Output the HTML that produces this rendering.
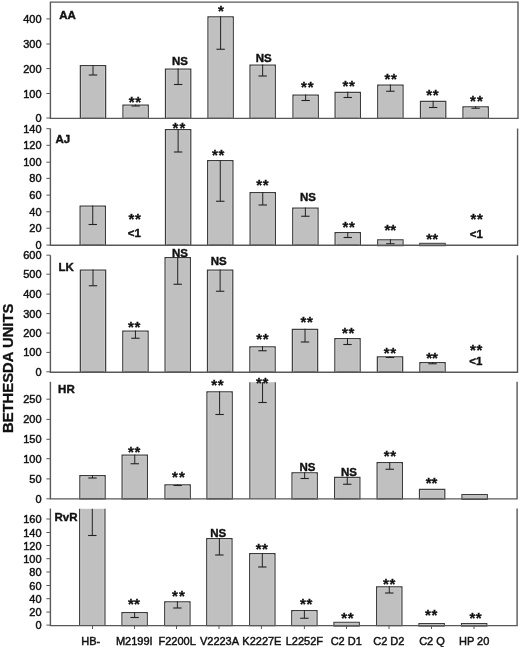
<!DOCTYPE html>
<html><head><meta charset="utf-8"><style>
html,body{margin:0;padding:0;background:#fff;}
body{width:520px;height:647px;overflow:hidden;}
svg{display:block;filter:blur(0.35px);}
text{font-family:"Liberation Sans",sans-serif;fill:#111111;stroke:#111111;stroke-width:0.3px;}
.tl{font-size:11px;stroke-width:0.45px;}
.xl{font-size:11px;stroke-width:0.45px;}
.pl{font-size:11.5px;font-weight:bold;stroke-width:0.4px;}
.ns{font-size:11.5px;font-weight:bold;stroke-width:0.4px;}
.ast{font-size:15px;font-weight:bold;stroke-width:0.3px;}
.yt{font-size:14.8px;font-weight:bold;}
</style></head><body>
<svg width="520" height="647" viewBox="0 0 520 647">
<rect x="0" y="0" width="520" height="647" fill="#fff"/>
<rect x="80.35" y="65.60" width="25.30" height="52.80" fill="#c0c0c0" stroke="#3c3c3c" stroke-width="1.2"/>
<path d="M81.55,118.40 V66.80 H104.45 V118.40" fill="none" stroke="#cbcbcb" stroke-width="0.9"/>
<line x1="93.00" y1="65.00" x2="93.00" y2="75.00" stroke="#222222" stroke-width="1"/>
<line x1="88.80" y1="75.00" x2="97.20" y2="75.00" stroke="#222222" stroke-width="1.1"/>
<rect x="122.97" y="105.10" width="25.30" height="13.30" fill="#c0c0c0" stroke="#3c3c3c" stroke-width="1.2"/>
<path d="M124.17,118.40 V106.30 H147.08 V118.40" fill="none" stroke="#cbcbcb" stroke-width="0.9"/>
<line x1="135.62" y1="104.50" x2="135.62" y2="106.00" stroke="#222222" stroke-width="1"/>
<line x1="131.43" y1="106.00" x2="139.82" y2="106.00" stroke="#222222" stroke-width="1.1"/>
<rect x="165.47" y="69.10" width="25.30" height="49.30" fill="#c0c0c0" stroke="#3c3c3c" stroke-width="1.2"/>
<path d="M166.67,118.40 V70.30 H189.58 V118.40" fill="none" stroke="#cbcbcb" stroke-width="0.9"/>
<line x1="178.12" y1="68.50" x2="178.12" y2="84.50" stroke="#222222" stroke-width="1"/>
<line x1="173.93" y1="84.50" x2="182.32" y2="84.50" stroke="#222222" stroke-width="1.1"/>
<rect x="207.97" y="16.85" width="25.30" height="101.55" fill="#c0c0c0" stroke="#3c3c3c" stroke-width="1.2"/>
<path d="M209.17,118.40 V18.05 H232.08 V118.40" fill="none" stroke="#cbcbcb" stroke-width="0.9"/>
<line x1="220.62" y1="16.25" x2="220.62" y2="49.25" stroke="#222222" stroke-width="1"/>
<line x1="216.43" y1="49.25" x2="224.82" y2="49.25" stroke="#222222" stroke-width="1.1"/>
<rect x="250.00" y="65.10" width="25.30" height="53.30" fill="#c0c0c0" stroke="#3c3c3c" stroke-width="1.2"/>
<path d="M251.20,118.40 V66.30 H274.10 V118.40" fill="none" stroke="#cbcbcb" stroke-width="0.9"/>
<line x1="262.65" y1="64.50" x2="262.65" y2="76.00" stroke="#222222" stroke-width="1"/>
<line x1="258.45" y1="76.00" x2="266.85" y2="76.00" stroke="#222222" stroke-width="1.1"/>
<rect x="292.98" y="95.10" width="25.30" height="23.30" fill="#c0c0c0" stroke="#3c3c3c" stroke-width="1.2"/>
<path d="M294.18,118.40 V96.30 H317.07 V118.40" fill="none" stroke="#cbcbcb" stroke-width="0.9"/>
<line x1="305.62" y1="94.50" x2="305.62" y2="100.50" stroke="#222222" stroke-width="1"/>
<line x1="301.43" y1="100.50" x2="309.82" y2="100.50" stroke="#222222" stroke-width="1.1"/>
<rect x="335.10" y="92.35" width="25.30" height="26.05" fill="#c0c0c0" stroke="#3c3c3c" stroke-width="1.2"/>
<path d="M336.30,118.40 V93.55 H359.20 V118.40" fill="none" stroke="#cbcbcb" stroke-width="0.9"/>
<line x1="347.75" y1="91.75" x2="347.75" y2="97.50" stroke="#222222" stroke-width="1"/>
<line x1="343.55" y1="97.50" x2="351.95" y2="97.50" stroke="#222222" stroke-width="1.1"/>
<rect x="377.73" y="85.10" width="25.30" height="33.30" fill="#c0c0c0" stroke="#3c3c3c" stroke-width="1.2"/>
<path d="M378.93,118.40 V86.30 H401.82 V118.40" fill="none" stroke="#cbcbcb" stroke-width="0.9"/>
<line x1="390.38" y1="84.50" x2="390.38" y2="91.25" stroke="#222222" stroke-width="1"/>
<line x1="386.18" y1="91.25" x2="394.57" y2="91.25" stroke="#222222" stroke-width="1.1"/>
<rect x="420.48" y="101.35" width="25.30" height="17.05" fill="#c0c0c0" stroke="#3c3c3c" stroke-width="1.2"/>
<path d="M421.68,118.40 V102.55 H444.57 V118.40" fill="none" stroke="#cbcbcb" stroke-width="0.9"/>
<line x1="433.12" y1="100.75" x2="433.12" y2="107.50" stroke="#222222" stroke-width="1"/>
<line x1="428.93" y1="107.50" x2="437.32" y2="107.50" stroke="#222222" stroke-width="1.1"/>
<rect x="462.98" y="106.85" width="25.30" height="11.55" fill="#c0c0c0" stroke="#3c3c3c" stroke-width="1.2"/>
<path d="M464.18,118.40 V108.05 H487.07 V118.40" fill="none" stroke="#cbcbcb" stroke-width="0.9"/>
<line x1="475.62" y1="106.25" x2="475.62" y2="108.25" stroke="#222222" stroke-width="1"/>
<line x1="471.43" y1="108.25" x2="479.82" y2="108.25" stroke="#222222" stroke-width="1.1"/>
<text x="131.75" y="106.85" class="ast" text-anchor="middle">*</text>
<text x="138.25" y="106.85" class="ast" text-anchor="middle">*</text>
<text x="180.00" y="64.75" class="ns" text-anchor="middle">NS</text>
<text x="220.88" y="15.85" class="ast" text-anchor="middle">*</text>
<text x="263.75" y="61.50" class="ns" text-anchor="middle">NS</text>
<text x="304.00" y="92.45" class="ast" text-anchor="middle">*</text>
<text x="310.75" y="92.45" class="ast" text-anchor="middle">*</text>
<text x="345.50" y="91.47" class="ast" text-anchor="middle">*</text>
<text x="352.00" y="91.47" class="ast" text-anchor="middle">*</text>
<text x="387.50" y="84.22" class="ast" text-anchor="middle">*</text>
<text x="394.00" y="84.22" class="ast" text-anchor="middle">*</text>
<text x="429.25" y="99.60" class="ast" text-anchor="middle">*</text>
<text x="435.75" y="99.60" class="ast" text-anchor="middle">*</text>
<text x="473.00" y="105.60" class="ast" text-anchor="middle">*</text>
<text x="480.00" y="105.60" class="ast" text-anchor="middle">*</text>
<path d="M50.4,118.4 V2.1 H518 V118.4 Z" fill="none" stroke="#585858" stroke-width="1.4"/>
<line x1="46.4" y1="18.90" x2="50.4" y2="18.90" stroke="#585858" stroke-width="1"/>
<text x="41.6" y="22.90" class="tl" text-anchor="end">400</text>
<line x1="46.4" y1="44.00" x2="50.4" y2="44.00" stroke="#585858" stroke-width="1"/>
<text x="41.6" y="48.00" class="tl" text-anchor="end">300</text>
<line x1="46.4" y1="68.60" x2="50.4" y2="68.60" stroke="#585858" stroke-width="1"/>
<text x="41.6" y="72.60" class="tl" text-anchor="end">200</text>
<line x1="46.4" y1="93.50" x2="50.4" y2="93.50" stroke="#585858" stroke-width="1"/>
<text x="41.6" y="97.50" class="tl" text-anchor="end">100</text>
<line x1="46.4" y1="118.00" x2="50.4" y2="118.00" stroke="#585858" stroke-width="1"/>
<text x="41.6" y="122.00" class="tl" text-anchor="end">0</text>
<text x="67.55" y="19.10" class="pl" text-anchor="middle">AA</text>
<rect x="80.10" y="206.10" width="25.30" height="39.10" fill="#c0c0c0" stroke="#3c3c3c" stroke-width="1.2"/>
<path d="M81.30,245.20 V207.30 H104.20 V245.20" fill="none" stroke="#cbcbcb" stroke-width="0.9"/>
<line x1="92.75" y1="205.50" x2="92.75" y2="224.50" stroke="#222222" stroke-width="1"/>
<line x1="88.55" y1="224.50" x2="96.95" y2="224.50" stroke="#222222" stroke-width="1.1"/>
<rect x="165.47" y="129.60" width="25.30" height="115.60" fill="#c0c0c0" stroke="#3c3c3c" stroke-width="1.2"/>
<path d="M166.67,245.20 V130.80 H189.58 V245.20" fill="none" stroke="#cbcbcb" stroke-width="0.9"/>
<line x1="178.12" y1="129.00" x2="178.12" y2="152.00" stroke="#222222" stroke-width="1"/>
<line x1="173.93" y1="152.00" x2="182.32" y2="152.00" stroke="#222222" stroke-width="1.1"/>
<rect x="207.62" y="160.60" width="25.30" height="84.60" fill="#c0c0c0" stroke="#3c3c3c" stroke-width="1.2"/>
<path d="M208.82,245.20 V161.80 H231.73 V245.20" fill="none" stroke="#cbcbcb" stroke-width="0.9"/>
<line x1="220.28" y1="160.00" x2="220.28" y2="201.25" stroke="#222222" stroke-width="1"/>
<line x1="216.08" y1="201.25" x2="224.47" y2="201.25" stroke="#222222" stroke-width="1.1"/>
<rect x="250.10" y="192.60" width="25.30" height="52.60" fill="#c0c0c0" stroke="#3c3c3c" stroke-width="1.2"/>
<path d="M251.30,245.20 V193.80 H274.20 V245.20" fill="none" stroke="#cbcbcb" stroke-width="0.9"/>
<line x1="262.75" y1="192.00" x2="262.75" y2="205.00" stroke="#222222" stroke-width="1"/>
<line x1="258.55" y1="205.00" x2="266.95" y2="205.00" stroke="#222222" stroke-width="1.1"/>
<rect x="292.73" y="208.10" width="25.30" height="37.10" fill="#c0c0c0" stroke="#3c3c3c" stroke-width="1.2"/>
<path d="M293.93,245.20 V209.30 H316.82 V245.20" fill="none" stroke="#cbcbcb" stroke-width="0.9"/>
<line x1="305.38" y1="207.50" x2="305.38" y2="216.25" stroke="#222222" stroke-width="1"/>
<line x1="301.18" y1="216.25" x2="309.57" y2="216.25" stroke="#222222" stroke-width="1.1"/>
<rect x="335.10" y="232.60" width="25.30" height="12.60" fill="#c0c0c0" stroke="#3c3c3c" stroke-width="1.2"/>
<path d="M336.30,245.20 V233.80 H359.20 V245.20" fill="none" stroke="#cbcbcb" stroke-width="0.9"/>
<line x1="347.75" y1="232.00" x2="347.75" y2="237.50" stroke="#222222" stroke-width="1"/>
<line x1="343.55" y1="237.50" x2="351.95" y2="237.50" stroke="#222222" stroke-width="1.1"/>
<rect x="377.62" y="239.75" width="25.50" height="5.95" fill="#c0c0c0" stroke="#3c3c3c" stroke-width="1"/>
<line x1="390.38" y1="239.25" x2="390.38" y2="243.75" stroke="#222222" stroke-width="1"/>
<line x1="386.18" y1="243.75" x2="394.57" y2="243.75" stroke="#222222" stroke-width="1.1"/>
<rect x="419.75" y="243.30" width="25.50" height="2.40" fill="#c0c0c0" stroke="#3c3c3c" stroke-width="1"/>
<text x="131.50" y="223.65" class="ast" text-anchor="middle">*</text>
<text x="137.80" y="223.65" class="ast" text-anchor="middle">*</text>
<text x="134.30" y="236.85" class="ns" text-anchor="middle">&lt;1</text>
<text x="175.50" y="132.97" class="ast" text-anchor="middle">*</text>
<text x="182.50" y="132.97" class="ast" text-anchor="middle">*</text>
<text x="215.00" y="160.47" class="ast" text-anchor="middle">*</text>
<text x="221.50" y="160.47" class="ast" text-anchor="middle">*</text>
<text x="259.25" y="190.47" class="ast" text-anchor="middle">*</text>
<text x="265.75" y="190.47" class="ast" text-anchor="middle">*</text>
<text x="308.00" y="201.12" class="ns" text-anchor="middle">NS</text>
<text x="345.50" y="232.47" class="ast" text-anchor="middle">*</text>
<text x="352.00" y="232.47" class="ast" text-anchor="middle">*</text>
<text x="387.50" y="235.47" class="ast" text-anchor="middle">*</text>
<text x="393.25" y="235.47" class="ast" text-anchor="middle">*</text>
<text x="429.25" y="243.72" class="ast" text-anchor="middle">*</text>
<text x="435.25" y="243.72" class="ast" text-anchor="middle">*</text>
<text x="473.50" y="224.35" class="ast" text-anchor="middle">*</text>
<text x="480.00" y="224.35" class="ast" text-anchor="middle">*</text>
<text x="476.25" y="237.50" class="ns" text-anchor="middle">&lt;1</text>
<path d="M50.4,128.5 V245.2 H517.6 V128.5" fill="none" stroke="#585858" stroke-width="1.4"/>
<line x1="46.4" y1="128.70" x2="50.4" y2="128.70" stroke="#585858" stroke-width="1"/>
<text x="41.6" y="132.70" class="tl" text-anchor="end">140</text>
<line x1="46.4" y1="145.30" x2="50.4" y2="145.30" stroke="#585858" stroke-width="1"/>
<text x="41.6" y="149.30" class="tl" text-anchor="end">120</text>
<line x1="46.4" y1="162.20" x2="50.4" y2="162.20" stroke="#585858" stroke-width="1"/>
<text x="41.6" y="166.20" class="tl" text-anchor="end">100</text>
<line x1="46.4" y1="178.40" x2="50.4" y2="178.40" stroke="#585858" stroke-width="1"/>
<text x="41.6" y="182.40" class="tl" text-anchor="end">80</text>
<line x1="46.4" y1="195.10" x2="50.4" y2="195.10" stroke="#585858" stroke-width="1"/>
<text x="41.6" y="199.10" class="tl" text-anchor="end">60</text>
<line x1="46.4" y1="211.80" x2="50.4" y2="211.80" stroke="#585858" stroke-width="1"/>
<text x="41.6" y="215.80" class="tl" text-anchor="end">40</text>
<line x1="46.4" y1="228.20" x2="50.4" y2="228.20" stroke="#585858" stroke-width="1"/>
<text x="41.6" y="232.20" class="tl" text-anchor="end">20</text>
<line x1="46.4" y1="245.10" x2="50.4" y2="245.10" stroke="#585858" stroke-width="1"/>
<text x="41.6" y="249.10" class="tl" text-anchor="end">0</text>
<text x="62.85" y="142.70" class="pl" text-anchor="middle">AJ</text>
<rect x="80.35" y="270.10" width="25.30" height="102.10" fill="#c0c0c0" stroke="#3c3c3c" stroke-width="1.2"/>
<path d="M81.55,372.20 V271.30 H104.45 V372.20" fill="none" stroke="#cbcbcb" stroke-width="0.9"/>
<line x1="93.00" y1="269.50" x2="93.00" y2="285.75" stroke="#222222" stroke-width="1"/>
<line x1="88.80" y1="285.75" x2="97.20" y2="285.75" stroke="#222222" stroke-width="1.1"/>
<rect x="122.80" y="331.10" width="25.30" height="41.10" fill="#c0c0c0" stroke="#3c3c3c" stroke-width="1.2"/>
<path d="M124.00,372.20 V332.30 H146.90 V372.20" fill="none" stroke="#cbcbcb" stroke-width="0.9"/>
<line x1="135.45" y1="330.50" x2="135.45" y2="338.25" stroke="#222222" stroke-width="1"/>
<line x1="131.25" y1="338.25" x2="139.65" y2="338.25" stroke="#222222" stroke-width="1.1"/>
<rect x="165.07" y="257.60" width="25.30" height="114.60" fill="#c0c0c0" stroke="#3c3c3c" stroke-width="1.2"/>
<path d="M166.27,372.20 V258.80 H189.18 V372.20" fill="none" stroke="#cbcbcb" stroke-width="0.9"/>
<line x1="177.72" y1="257.00" x2="177.72" y2="284.25" stroke="#222222" stroke-width="1"/>
<line x1="173.53" y1="284.25" x2="181.92" y2="284.25" stroke="#222222" stroke-width="1.1"/>
<rect x="207.47" y="270.10" width="25.30" height="102.10" fill="#c0c0c0" stroke="#3c3c3c" stroke-width="1.2"/>
<path d="M208.67,372.20 V271.30 H231.58 V372.20" fill="none" stroke="#cbcbcb" stroke-width="0.9"/>
<line x1="220.12" y1="269.50" x2="220.12" y2="291.25" stroke="#222222" stroke-width="1"/>
<line x1="215.93" y1="291.25" x2="224.32" y2="291.25" stroke="#222222" stroke-width="1.1"/>
<rect x="249.85" y="346.85" width="25.30" height="25.35" fill="#c0c0c0" stroke="#3c3c3c" stroke-width="1.2"/>
<path d="M251.05,372.20 V348.05 H273.95 V372.20" fill="none" stroke="#cbcbcb" stroke-width="0.9"/>
<line x1="262.50" y1="346.25" x2="262.50" y2="350.75" stroke="#222222" stroke-width="1"/>
<line x1="258.30" y1="350.75" x2="266.70" y2="350.75" stroke="#222222" stroke-width="1.1"/>
<rect x="292.35" y="329.35" width="25.30" height="42.85" fill="#c0c0c0" stroke="#3c3c3c" stroke-width="1.2"/>
<path d="M293.55,372.20 V330.55 H316.45 V372.20" fill="none" stroke="#cbcbcb" stroke-width="0.9"/>
<line x1="305.00" y1="328.75" x2="305.00" y2="342.00" stroke="#222222" stroke-width="1"/>
<line x1="300.80" y1="342.00" x2="309.20" y2="342.00" stroke="#222222" stroke-width="1.1"/>
<rect x="334.85" y="338.60" width="25.30" height="33.60" fill="#c0c0c0" stroke="#3c3c3c" stroke-width="1.2"/>
<path d="M336.05,372.20 V339.80 H358.95 V372.20" fill="none" stroke="#cbcbcb" stroke-width="0.9"/>
<line x1="347.50" y1="338.00" x2="347.50" y2="344.50" stroke="#222222" stroke-width="1"/>
<line x1="343.30" y1="344.50" x2="351.70" y2="344.50" stroke="#222222" stroke-width="1.1"/>
<rect x="377.35" y="356.85" width="25.30" height="15.35" fill="#c0c0c0" stroke="#3c3c3c" stroke-width="1.2"/>
<path d="M378.55,372.20 V358.05 H401.45 V372.20" fill="none" stroke="#cbcbcb" stroke-width="0.9"/>
<line x1="390.00" y1="356.25" x2="390.00" y2="357.50" stroke="#222222" stroke-width="1"/>
<line x1="385.80" y1="357.50" x2="394.20" y2="357.50" stroke="#222222" stroke-width="1.1"/>
<rect x="419.85" y="362.60" width="25.30" height="9.60" fill="#c0c0c0" stroke="#3c3c3c" stroke-width="1.2"/>
<path d="M421.05,372.20 V363.80 H443.95 V372.20" fill="none" stroke="#cbcbcb" stroke-width="0.9"/>
<line x1="432.50" y1="362.00" x2="432.50" y2="363.75" stroke="#222222" stroke-width="1"/>
<line x1="428.30" y1="363.75" x2="436.70" y2="363.75" stroke="#222222" stroke-width="1.1"/>
<text x="131.00" y="332.35" class="ast" text-anchor="middle">*</text>
<text x="137.50" y="332.35" class="ast" text-anchor="middle">*</text>
<text x="180.00" y="256.50" class="ns" text-anchor="middle">NS</text>
<text x="218.75" y="265.00" class="ns" text-anchor="middle">NS</text>
<text x="259.25" y="343.73" class="ast" text-anchor="middle">*</text>
<text x="265.75" y="343.73" class="ast" text-anchor="middle">*</text>
<text x="303.50" y="326.85" class="ast" text-anchor="middle">*</text>
<text x="310.00" y="326.85" class="ast" text-anchor="middle">*</text>
<text x="345.00" y="338.10" class="ast" text-anchor="middle">*</text>
<text x="351.50" y="338.10" class="ast" text-anchor="middle">*</text>
<text x="386.75" y="357.85" class="ast" text-anchor="middle">*</text>
<text x="393.25" y="357.85" class="ast" text-anchor="middle">*</text>
<text x="429.25" y="362.98" class="ast" text-anchor="middle">*</text>
<text x="435.00" y="362.98" class="ast" text-anchor="middle">*</text>
<text x="473.00" y="354.85" class="ast" text-anchor="middle">*</text>
<text x="479.50" y="354.85" class="ast" text-anchor="middle">*</text>
<text x="475.88" y="365.00" class="ns" text-anchor="middle">&lt;1</text>
<path d="M50.4,255.2 V372.2 H517.5 V255.2" fill="none" stroke="#585858" stroke-width="1.4"/>
<line x1="46.4" y1="255.20" x2="50.4" y2="255.20" stroke="#585858" stroke-width="1"/>
<text x="41.6" y="259.20" class="tl" text-anchor="end">600</text>
<line x1="46.4" y1="274.20" x2="50.4" y2="274.20" stroke="#585858" stroke-width="1"/>
<text x="41.6" y="278.20" class="tl" text-anchor="end">500</text>
<line x1="46.4" y1="294.10" x2="50.4" y2="294.10" stroke="#585858" stroke-width="1"/>
<text x="41.6" y="298.10" class="tl" text-anchor="end">400</text>
<line x1="46.4" y1="313.60" x2="50.4" y2="313.60" stroke="#585858" stroke-width="1"/>
<text x="41.6" y="317.60" class="tl" text-anchor="end">300</text>
<line x1="46.4" y1="333.10" x2="50.4" y2="333.10" stroke="#585858" stroke-width="1"/>
<text x="41.6" y="337.10" class="tl" text-anchor="end">200</text>
<line x1="46.4" y1="352.40" x2="50.4" y2="352.40" stroke="#585858" stroke-width="1"/>
<text x="41.6" y="356.40" class="tl" text-anchor="end">100</text>
<line x1="46.4" y1="371.80" x2="50.4" y2="371.80" stroke="#585858" stroke-width="1"/>
<text x="41.6" y="375.80" class="tl" text-anchor="end">0</text>
<text x="66.15" y="270.60" class="pl" text-anchor="middle">LK</text>
<rect x="79.85" y="475.60" width="25.30" height="23.30" fill="#c0c0c0" stroke="#3c3c3c" stroke-width="1.2"/>
<path d="M81.05,498.90 V476.80 H103.95 V498.90" fill="none" stroke="#cbcbcb" stroke-width="0.9"/>
<line x1="92.50" y1="475.00" x2="92.50" y2="478.00" stroke="#222222" stroke-width="1"/>
<line x1="88.30" y1="478.00" x2="96.70" y2="478.00" stroke="#222222" stroke-width="1.1"/>
<rect x="122.10" y="455.10" width="25.30" height="43.80" fill="#c0c0c0" stroke="#3c3c3c" stroke-width="1.2"/>
<path d="M123.30,498.90 V456.30 H146.20 V498.90" fill="none" stroke="#cbcbcb" stroke-width="0.9"/>
<line x1="134.75" y1="454.50" x2="134.75" y2="463.75" stroke="#222222" stroke-width="1"/>
<line x1="130.55" y1="463.75" x2="138.95" y2="463.75" stroke="#222222" stroke-width="1.1"/>
<rect x="164.97" y="484.85" width="25.30" height="14.05" fill="#c0c0c0" stroke="#3c3c3c" stroke-width="1.2"/>
<path d="M166.17,498.90 V486.05 H189.08 V498.90" fill="none" stroke="#cbcbcb" stroke-width="0.9"/>
<line x1="177.62" y1="484.25" x2="177.62" y2="485.50" stroke="#222222" stroke-width="1"/>
<line x1="173.43" y1="485.50" x2="181.82" y2="485.50" stroke="#222222" stroke-width="1.1"/>
<rect x="206.95" y="391.85" width="25.30" height="107.05" fill="#c0c0c0" stroke="#3c3c3c" stroke-width="1.2"/>
<path d="M208.15,498.90 V393.05 H231.05 V498.90" fill="none" stroke="#cbcbcb" stroke-width="0.9"/>
<line x1="219.60" y1="391.25" x2="219.60" y2="414.50" stroke="#222222" stroke-width="1"/>
<line x1="215.40" y1="414.50" x2="223.80" y2="414.50" stroke="#222222" stroke-width="1.1"/>
<rect x="249.90" y="382.20" width="25.30" height="116.70" fill="#c0c0c0"/>
<path d="M249.90,382.20 V498.90 M275.20,382.20 V498.90" fill="none" stroke="#3c3c3c" stroke-width="1.2"/>
<path d="M251.10,498.90 V382.20 M274.00,382.20 V498.90" fill="none" stroke="#cbcbcb" stroke-width="0.9"/>
<line x1="262.55" y1="382.20" x2="262.55" y2="402.50" stroke="#222222" stroke-width="1"/>
<line x1="258.35" y1="402.50" x2="266.75" y2="402.50" stroke="#222222" stroke-width="1.1"/>
<rect x="292.00" y="472.80" width="25.30" height="26.10" fill="#c0c0c0" stroke="#3c3c3c" stroke-width="1.2"/>
<path d="M293.20,498.90 V474.00 H316.10 V498.90" fill="none" stroke="#cbcbcb" stroke-width="0.9"/>
<line x1="304.65" y1="472.20" x2="304.65" y2="478.50" stroke="#222222" stroke-width="1"/>
<line x1="300.45" y1="478.50" x2="308.85" y2="478.50" stroke="#222222" stroke-width="1.1"/>
<rect x="334.60" y="477.35" width="25.30" height="21.55" fill="#c0c0c0" stroke="#3c3c3c" stroke-width="1.2"/>
<path d="M335.80,498.90 V478.55 H358.70 V498.90" fill="none" stroke="#cbcbcb" stroke-width="0.9"/>
<line x1="347.25" y1="476.75" x2="347.25" y2="484.25" stroke="#222222" stroke-width="1"/>
<line x1="343.05" y1="484.25" x2="351.45" y2="484.25" stroke="#222222" stroke-width="1.1"/>
<rect x="377.10" y="462.60" width="25.30" height="36.30" fill="#c0c0c0" stroke="#3c3c3c" stroke-width="1.2"/>
<path d="M378.30,498.90 V463.80 H401.20 V498.90" fill="none" stroke="#cbcbcb" stroke-width="0.9"/>
<line x1="389.75" y1="462.00" x2="389.75" y2="469.25" stroke="#222222" stroke-width="1"/>
<line x1="385.55" y1="469.25" x2="393.95" y2="469.25" stroke="#222222" stroke-width="1.1"/>
<rect x="419.48" y="489.35" width="25.30" height="9.55" fill="#c0c0c0" stroke="#3c3c3c" stroke-width="1.2"/>
<path d="M420.68,498.90 V490.55 H443.57 V498.90" fill="none" stroke="#cbcbcb" stroke-width="0.9"/>
<rect x="461.88" y="494.50" width="25.50" height="4.90" fill="#c0c0c0" stroke="#3c3c3c" stroke-width="1"/>
<text x="131.00" y="457.35" class="ast" text-anchor="middle">*</text>
<text x="137.50" y="457.35" class="ast" text-anchor="middle">*</text>
<text x="175.00" y="482.48" class="ast" text-anchor="middle">*</text>
<text x="182.00" y="482.48" class="ast" text-anchor="middle">*</text>
<text x="214.25" y="390.48" class="ast" text-anchor="middle">*</text>
<text x="220.75" y="390.48" class="ast" text-anchor="middle">*</text>
<text x="259.00" y="387.70" class="ast" text-anchor="middle">*</text>
<text x="265.40" y="387.70" class="ast" text-anchor="middle">*</text>
<text x="307.40" y="470.55" class="ns" text-anchor="middle">NS</text>
<text x="348.88" y="476.12" class="ns" text-anchor="middle">NS</text>
<text x="386.75" y="461.10" class="ast" text-anchor="middle">*</text>
<text x="393.25" y="461.10" class="ast" text-anchor="middle">*</text>
<text x="428.75" y="488.35" class="ast" text-anchor="middle">*</text>
<text x="434.50" y="488.35" class="ast" text-anchor="middle">*</text>
<path d="M50.4,381.8 V498.9 H517.1 V381.8" fill="none" stroke="#585858" stroke-width="1.4"/>
<line x1="46.4" y1="399.20" x2="50.4" y2="399.20" stroke="#585858" stroke-width="1"/>
<text x="41.6" y="403.20" class="tl" text-anchor="end">250</text>
<line x1="46.4" y1="419.40" x2="50.4" y2="419.40" stroke="#585858" stroke-width="1"/>
<text x="41.6" y="423.40" class="tl" text-anchor="end">200</text>
<line x1="46.4" y1="439.30" x2="50.4" y2="439.30" stroke="#585858" stroke-width="1"/>
<text x="41.6" y="443.30" class="tl" text-anchor="end">150</text>
<line x1="46.4" y1="458.70" x2="50.4" y2="458.70" stroke="#585858" stroke-width="1"/>
<text x="41.6" y="462.70" class="tl" text-anchor="end">100</text>
<line x1="46.4" y1="478.90" x2="50.4" y2="478.90" stroke="#585858" stroke-width="1"/>
<text x="41.6" y="482.90" class="tl" text-anchor="end">50</text>
<line x1="46.4" y1="498.80" x2="50.4" y2="498.80" stroke="#585858" stroke-width="1"/>
<text x="41.6" y="502.80" class="tl" text-anchor="end">0</text>
<text x="66.40" y="392.70" class="pl" text-anchor="middle">HR</text>
<rect x="79.65" y="508.80" width="25.30" height="116.80" fill="#c0c0c0"/>
<path d="M79.65,508.80 V625.60 M104.95,508.80 V625.60" fill="none" stroke="#3c3c3c" stroke-width="1.2"/>
<path d="M80.85,625.60 V508.80 M103.75,508.80 V625.60" fill="none" stroke="#cbcbcb" stroke-width="0.9"/>
<line x1="92.30" y1="508.80" x2="92.30" y2="535.50" stroke="#222222" stroke-width="1"/>
<line x1="88.10" y1="535.50" x2="96.50" y2="535.50" stroke="#222222" stroke-width="1.1"/>
<rect x="121.97" y="612.60" width="25.30" height="13.00" fill="#c0c0c0" stroke="#3c3c3c" stroke-width="1.2"/>
<path d="M123.17,625.60 V613.80 H146.08 V625.60" fill="none" stroke="#cbcbcb" stroke-width="0.9"/>
<line x1="134.62" y1="612.00" x2="134.62" y2="617.50" stroke="#222222" stroke-width="1"/>
<line x1="130.43" y1="617.50" x2="138.82" y2="617.50" stroke="#222222" stroke-width="1.1"/>
<rect x="164.72" y="601.85" width="25.30" height="23.75" fill="#c0c0c0" stroke="#3c3c3c" stroke-width="1.2"/>
<path d="M165.92,625.60 V603.05 H188.83 V625.60" fill="none" stroke="#cbcbcb" stroke-width="0.9"/>
<line x1="177.38" y1="601.25" x2="177.38" y2="608.00" stroke="#222222" stroke-width="1"/>
<line x1="173.18" y1="608.00" x2="181.57" y2="608.00" stroke="#222222" stroke-width="1.1"/>
<rect x="206.72" y="538.60" width="25.30" height="87.00" fill="#c0c0c0" stroke="#3c3c3c" stroke-width="1.2"/>
<path d="M207.92,625.60 V539.80 H230.83 V625.60" fill="none" stroke="#cbcbcb" stroke-width="0.9"/>
<line x1="219.38" y1="538.00" x2="219.38" y2="555.00" stroke="#222222" stroke-width="1"/>
<line x1="215.18" y1="555.00" x2="223.57" y2="555.00" stroke="#222222" stroke-width="1.1"/>
<rect x="249.67" y="553.60" width="25.30" height="72.00" fill="#c0c0c0" stroke="#3c3c3c" stroke-width="1.2"/>
<path d="M250.87,625.60 V554.80 H273.77 V625.60" fill="none" stroke="#cbcbcb" stroke-width="0.9"/>
<line x1="262.32" y1="553.00" x2="262.32" y2="567.00" stroke="#222222" stroke-width="1"/>
<line x1="258.12" y1="567.00" x2="266.52" y2="567.00" stroke="#222222" stroke-width="1.1"/>
<rect x="291.73" y="610.60" width="25.30" height="15.00" fill="#c0c0c0" stroke="#3c3c3c" stroke-width="1.2"/>
<path d="M292.93,625.60 V611.80 H315.82 V625.60" fill="none" stroke="#cbcbcb" stroke-width="0.9"/>
<line x1="304.38" y1="610.00" x2="304.38" y2="618.25" stroke="#222222" stroke-width="1"/>
<line x1="300.18" y1="618.25" x2="308.57" y2="618.25" stroke="#222222" stroke-width="1.1"/>
<rect x="333.88" y="622.25" width="25.50" height="3.85" fill="#c0c0c0" stroke="#3c3c3c" stroke-width="1"/>
<rect x="376.62" y="586.85" width="25.30" height="38.75" fill="#c0c0c0" stroke="#3c3c3c" stroke-width="1.2"/>
<path d="M377.82,625.60 V588.05 H400.72 V625.60" fill="none" stroke="#cbcbcb" stroke-width="0.9"/>
<line x1="389.27" y1="586.25" x2="389.27" y2="593.00" stroke="#222222" stroke-width="1"/>
<line x1="385.07" y1="593.00" x2="393.47" y2="593.00" stroke="#222222" stroke-width="1.1"/>
<rect x="418.88" y="623.50" width="25.50" height="2.60" fill="#c0c0c0" stroke="#3c3c3c" stroke-width="1"/>
<rect x="461.38" y="623.50" width="25.50" height="2.60" fill="#c0c0c0" stroke="#3c3c3c" stroke-width="1"/>
<text x="131.00" y="609.35" class="ast" text-anchor="middle">*</text>
<text x="137.00" y="609.35" class="ast" text-anchor="middle">*</text>
<text x="175.00" y="601.10" class="ast" text-anchor="middle">*</text>
<text x="182.00" y="601.10" class="ast" text-anchor="middle">*</text>
<text x="218.25" y="536.88" class="ns" text-anchor="middle">NS</text>
<text x="258.75" y="553.60" class="ast" text-anchor="middle">*</text>
<text x="265.00" y="553.60" class="ast" text-anchor="middle">*</text>
<text x="303.00" y="609.35" class="ast" text-anchor="middle">*</text>
<text x="309.50" y="609.35" class="ast" text-anchor="middle">*</text>
<text x="344.25" y="622.98" class="ast" text-anchor="middle">*</text>
<text x="350.75" y="622.98" class="ast" text-anchor="middle">*</text>
<text x="386.00" y="589.35" class="ast" text-anchor="middle">*</text>
<text x="392.50" y="589.35" class="ast" text-anchor="middle">*</text>
<text x="428.00" y="620.23" class="ast" text-anchor="middle">*</text>
<text x="434.50" y="620.23" class="ast" text-anchor="middle">*</text>
<text x="472.50" y="622.73" class="ast" text-anchor="middle">*</text>
<text x="478.75" y="622.73" class="ast" text-anchor="middle">*</text>
<path d="M50.4,508.6 V625.6 H517.1 V508.6" fill="none" stroke="#585858" stroke-width="1.4"/>
<line x1="46.4" y1="519.00" x2="50.4" y2="519.00" stroke="#585858" stroke-width="1"/>
<text x="41.6" y="523.00" class="tl" text-anchor="end">160</text>
<line x1="46.4" y1="532.50" x2="50.4" y2="532.50" stroke="#585858" stroke-width="1"/>
<text x="41.6" y="536.50" class="tl" text-anchor="end">140</text>
<line x1="46.4" y1="545.50" x2="50.4" y2="545.50" stroke="#585858" stroke-width="1"/>
<text x="41.6" y="549.50" class="tl" text-anchor="end">120</text>
<line x1="46.4" y1="558.70" x2="50.4" y2="558.70" stroke="#585858" stroke-width="1"/>
<text x="41.6" y="562.70" class="tl" text-anchor="end">100</text>
<line x1="46.4" y1="572.00" x2="50.4" y2="572.00" stroke="#585858" stroke-width="1"/>
<text x="41.6" y="576.00" class="tl" text-anchor="end">80</text>
<line x1="46.4" y1="585.50" x2="50.4" y2="585.50" stroke="#585858" stroke-width="1"/>
<text x="41.6" y="589.50" class="tl" text-anchor="end">60</text>
<line x1="46.4" y1="598.70" x2="50.4" y2="598.70" stroke="#585858" stroke-width="1"/>
<text x="41.6" y="602.70" class="tl" text-anchor="end">40</text>
<line x1="46.4" y1="612.10" x2="50.4" y2="612.10" stroke="#585858" stroke-width="1"/>
<text x="41.6" y="616.10" class="tl" text-anchor="end">20</text>
<line x1="46.4" y1="625.10" x2="50.4" y2="625.10" stroke="#585858" stroke-width="1"/>
<text x="41.6" y="629.10" class="tl" text-anchor="end">0</text>
<text x="65.95" y="520.60" class="pl" text-anchor="middle">RvR</text>
<line x1="92.50" y1="625.3" x2="92.50" y2="629" stroke="#585858" stroke-width="1"/>
<text x="90.70" y="644.6" class="xl" text-anchor="middle">HB-</text>
<line x1="134.50" y1="625.3" x2="134.50" y2="629" stroke="#585858" stroke-width="1"/>
<text x="134.30" y="644.6" class="xl" text-anchor="middle">M2199I</text>
<line x1="176.50" y1="625.3" x2="176.50" y2="629" stroke="#585858" stroke-width="1"/>
<text x="177.10" y="644.6" class="xl" text-anchor="middle">F2200L</text>
<line x1="219.00" y1="625.3" x2="219.00" y2="629" stroke="#585858" stroke-width="1"/>
<text x="219.50" y="644.6" class="xl" text-anchor="middle">V2223A</text>
<line x1="261.40" y1="625.3" x2="261.40" y2="629" stroke="#585858" stroke-width="1"/>
<text x="261.90" y="644.6" class="xl" text-anchor="middle">K2227E</text>
<line x1="304.40" y1="625.3" x2="304.40" y2="629" stroke="#585858" stroke-width="1"/>
<text x="304.40" y="644.6" class="xl" text-anchor="middle">L2252F</text>
<line x1="346.50" y1="625.3" x2="346.50" y2="629" stroke="#585858" stroke-width="1"/>
<text x="346.25" y="644.6" class="xl" text-anchor="middle">C2 D1</text>
<line x1="389.00" y1="625.3" x2="389.00" y2="629" stroke="#585858" stroke-width="1"/>
<text x="388.80" y="644.6" class="xl" text-anchor="middle">C2 D2</text>
<line x1="431.50" y1="625.3" x2="431.50" y2="629" stroke="#585858" stroke-width="1"/>
<text x="432.00" y="644.6" class="xl" text-anchor="middle">C2 Q</text>
<line x1="474.00" y1="625.3" x2="474.00" y2="629" stroke="#585858" stroke-width="1"/>
<text x="474.15" y="644.6" class="xl" text-anchor="middle">HP 20</text>
<text transform="translate(12.6,368.3) rotate(-90)" class="yt" text-anchor="middle">BETHESDA UNITS</text>
</svg>
</body></html>
